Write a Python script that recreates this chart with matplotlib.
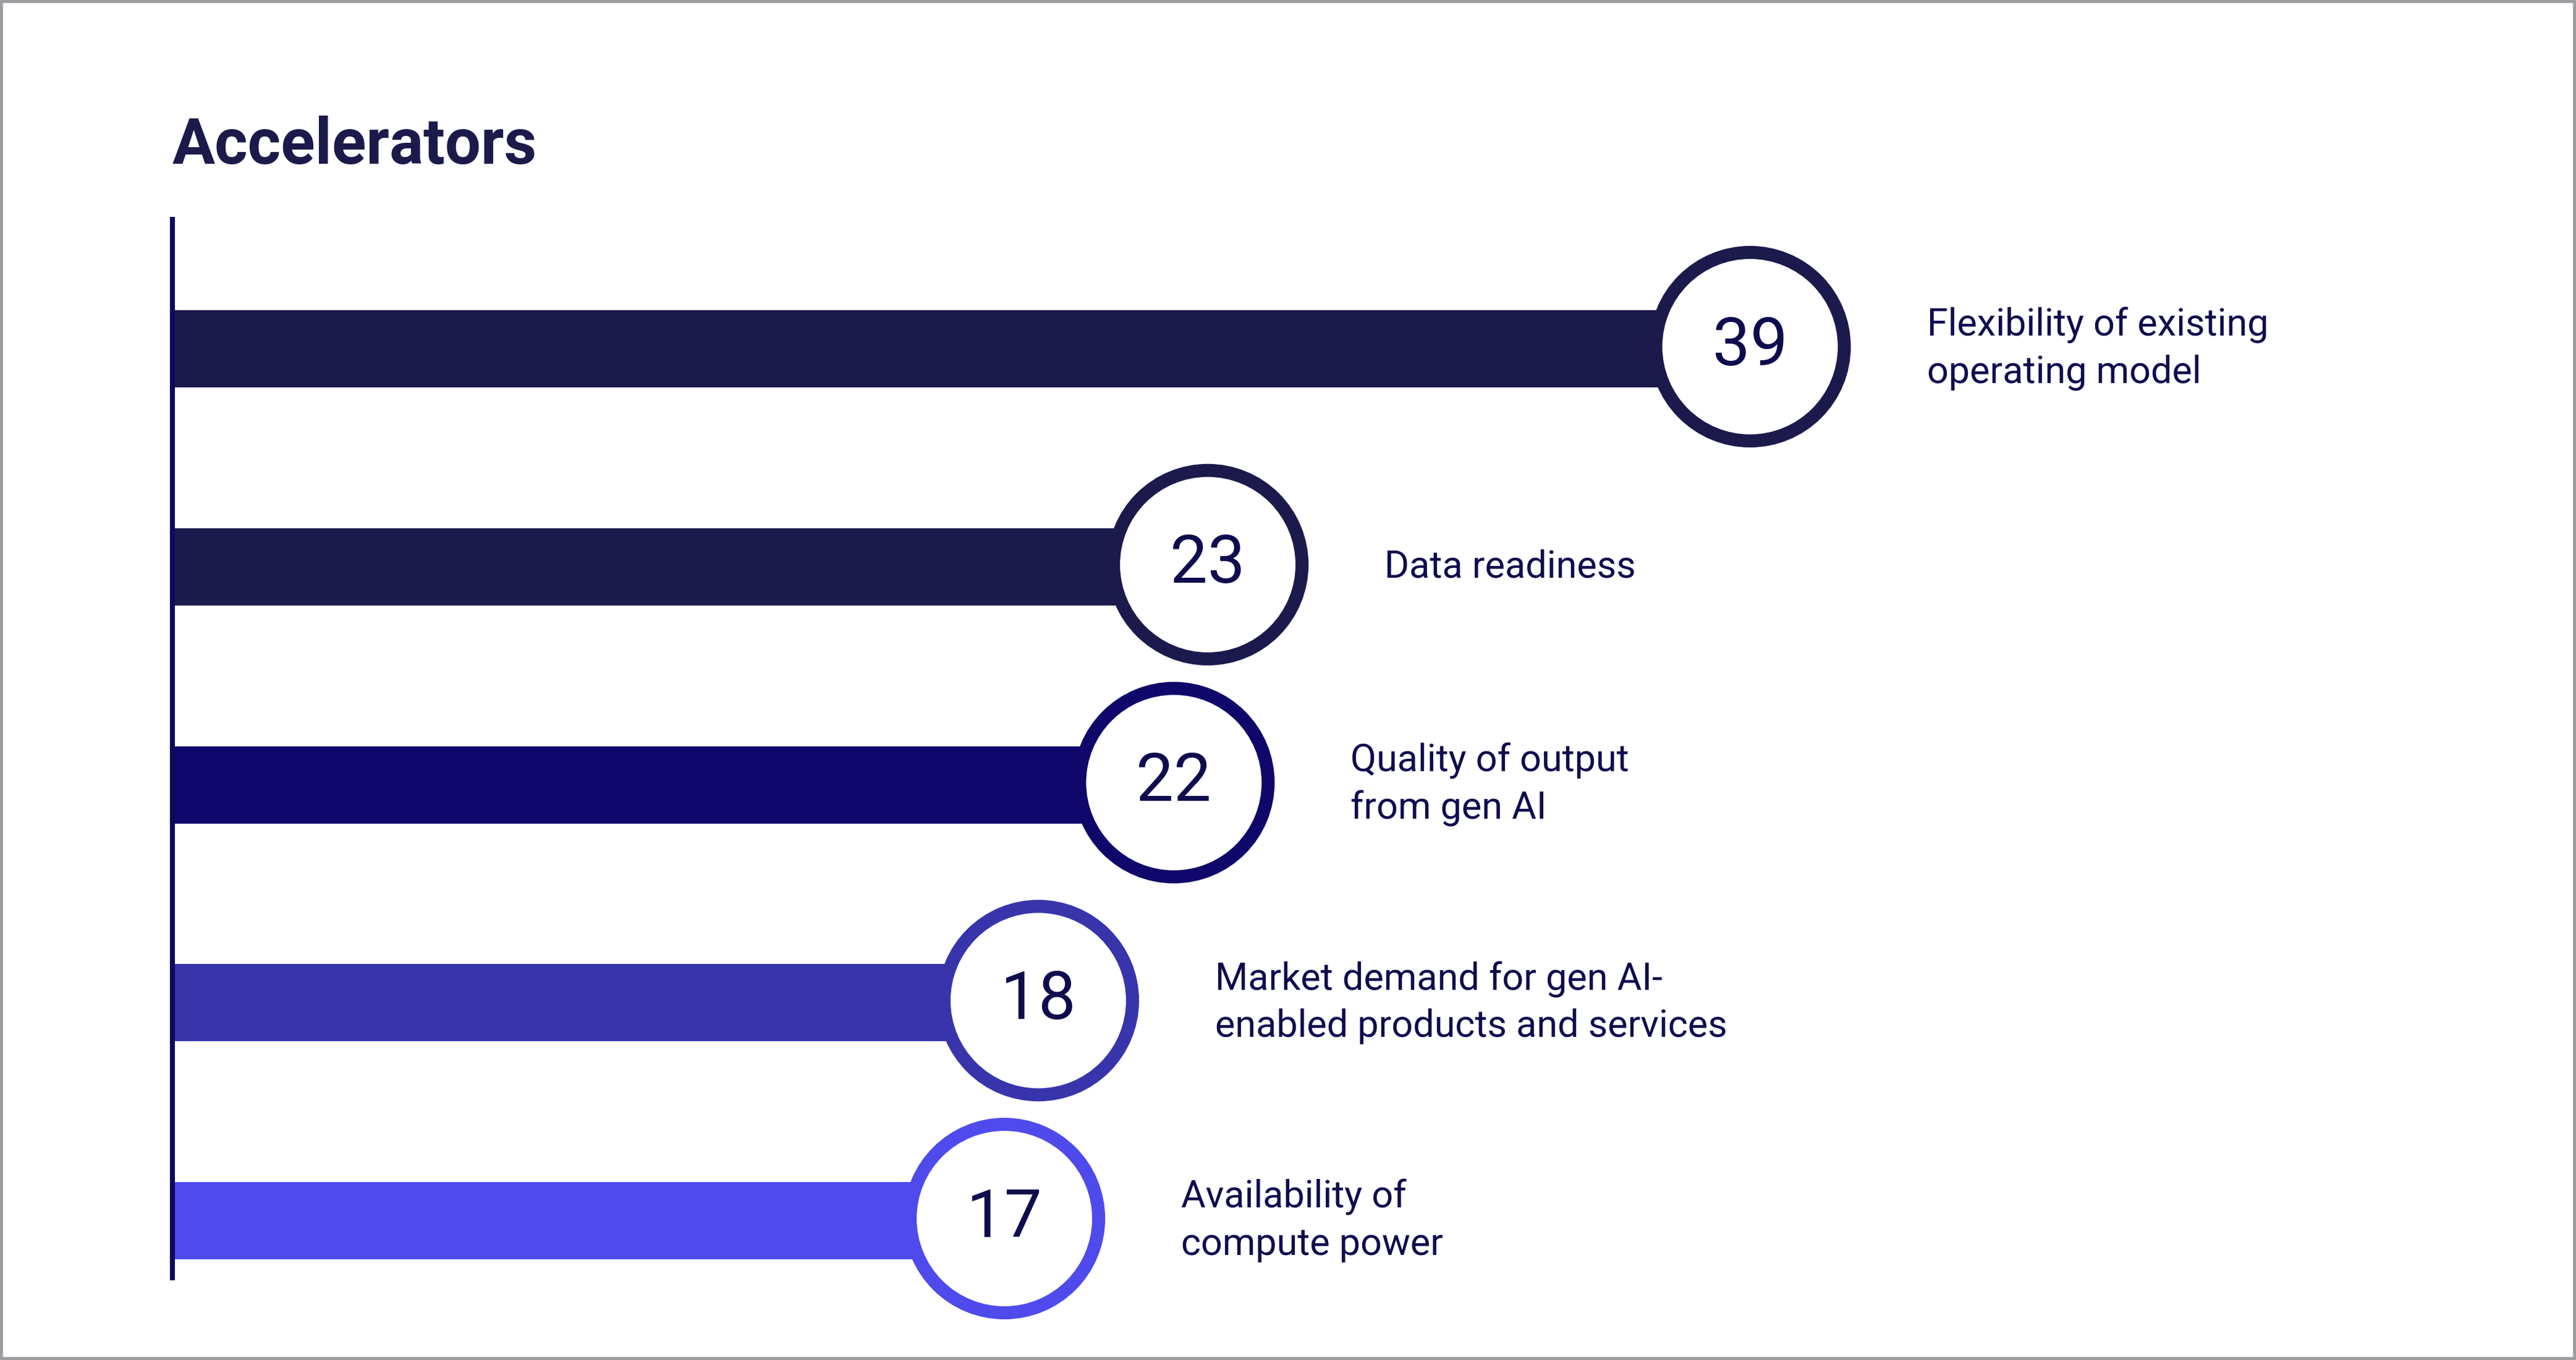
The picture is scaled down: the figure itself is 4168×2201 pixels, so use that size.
import numpy as np
import matplotlib
matplotlib.use("Agg")
import matplotlib.pyplot as plt
from matplotlib.patches import Rectangle

# data
labels = [
    "Flexibility of existing\noperating model",
    "Data readiness",
    "Quality of output\nfrom gen AI",
    "Market demand for gen AI-\nenabled products and services",
    "Availability of\ncompute power",
]
values = [39, 23, 22, 18, 17]
colors = ["#1c1a4c", "#1c1a4c", "#10076a", "#3834ab", "#4e4aec"]
title = "Accelerators"

text_color = "#0f0c4e"
x_base = -7.55  # where the bars start (axis line)

plt.rcParams["font.family"] = ["Roboto", "DejaVu Sans"]

fig = plt.figure(figsize=(20.84, 11.005), dpi=200)
ax = fig.add_axes([0.0669, 0.0604, 0.9331, 0.7783])

rows = np.arange(len(values))
vals = np.array(values, dtype=float)

ax.barh(rows + 0.01, vals - x_base, left=x_base, height=0.354, color=colors, zorder=2)
ax.scatter(vals, rows, s=12060, facecolor="white", edgecolor=colors,
           linewidths=7.6, zorder=3, clip_on=False)

for r, v, lab in zip(rows, values, labels):
    ax.text(v, r, str(v), ha="center", va="center", fontsize=39,
            fontweight="normal", color=text_color, zorder=4)
    ax.annotate(lab, (v, r + 0.01), xytext=(103, 0), textcoords="offset points",
                ha="left", va="center", fontsize=22, fontweight="normal",
                color=text_color, linespacing=1.38)

ax.set_xlim(x_base, x_base + 70.92)
ax.set_ylim(4.272, -0.584)
for s in ["top", "right", "bottom"]:
    ax.spines[s].set_visible(False)
ax.spines["left"].set_linewidth(2.9)
ax.spines["left"].set_color("#0d0a5c")
ax.set_xticks([])
ax.set_yticks([])

fig.text(279 / 4168, 1 - 265 / 2201, title, fontsize=37, fontweight="semibold",
         color="#1b1a4b", ha="left", va="baseline")

# grey frame around the figure
fig.patches.append(Rectangle((0, 0), 1, 1, transform=fig.transFigure,
                             fill=False, edgecolor="#9b9ea1", linewidth=3.5))

fig.savefig("out.png", dpi=200, facecolor="white")
